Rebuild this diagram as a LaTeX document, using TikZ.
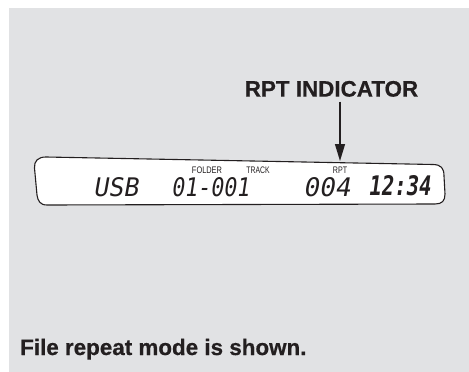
\documentclass[tikz,border=0pt]{standalone}
\usepackage{fontspec}
\setmainfont{Liberation Sans}
\newfontfamily\headfont[FakeBold=0.6]{Liberation Sans Bold}
\newfontfamily\lcdfont[FakeSlant=0.18]{DejaVu Sans Mono}
\usepackage{graphicx}
\definecolor{bggray}{HTML}{E1E2E4}
\definecolor{ink}{HTML}{231F20}
\tikzset{
  heading/.style={inner sep=0pt, anchor=base, text=ink, font=\headfont\fontsize{22.4}{26}\selectfont},
  lcdlabel/.style={inner sep=0pt, anchor=base, text=ink, font=\fontsize{9.5}{10}\selectfont},
  lcdtext/.style={inner sep=0pt, anchor=south west, text=ink},
  panel/.style={draw=ink, line width=1.1pt, fill=white, line join=round},
  pointer/.style={draw=ink, line width=1.3pt, -{Triangle[length=17pt,width=10pt]}}
}
\usetikzlibrary{arrows.meta}
\begin{document}
\begin{tikzpicture}[x=1pt,y=-1pt]
\useasboundingbox (0,0) rectangle (469,372);
\fill[white] (0,0) rectangle (469,372);
\fill[bggray] (9,8) rectangle (469,372);
% LCD panel
\draw[panel] (46,157) -- (433,164.5)
  .. controls (441,164.7) and (444,168) .. (444,176)
  -- (445,194) .. controls (445,201) and (442,204) .. (435,204)
  -- (47,205) .. controls (40,205) and (38,201) .. (37,195)
  -- (34.5,168) .. controls (34,161) and (38,157) .. (46,157) -- cycle;
\coordinate (paneltop) at (340,161);
% headings
\node[heading] (rpt) at (331.5,96.6) {RPT INDICATOR};
\node[heading, anchor=base west] (caption) at (20,355) {File repeat mode is shown.};
% arrow
\coordinate (arrowstart) at (340,101.5);
\draw[pointer] (arrowstart) -- (paneltop);
% small labels
\node[lcdlabel] (folder) at (207,173.5) {\scalebox{0.78}[1]{FOLDER}};
\node[lcdlabel] (track) at (258,173.5) {\scalebox{0.72}[1]{TRACK}};
\node[lcdlabel] (rptl) at (340,173.5) {\scalebox{0.75}[1]{RPT}};
% LCD text
\node[lcdtext] (usb) at (93,197) {\resizebox{45pt}{19pt}{\lcdfont USB}};
\node[lcdtext] (trk) at (171,197) {\resizebox{78pt}{19pt}{\lcdfont 01-001}};
\node[lcdtext] (num) at (303,197) {\resizebox{47pt}{19pt}{\lcdfont 004}};
\node[lcdtext] (clock) at (368,196.5) {\resizebox{62pt}{20pt}{\lcdfont\bfseries 12:34}};
\end{tikzpicture}
\end{document}
